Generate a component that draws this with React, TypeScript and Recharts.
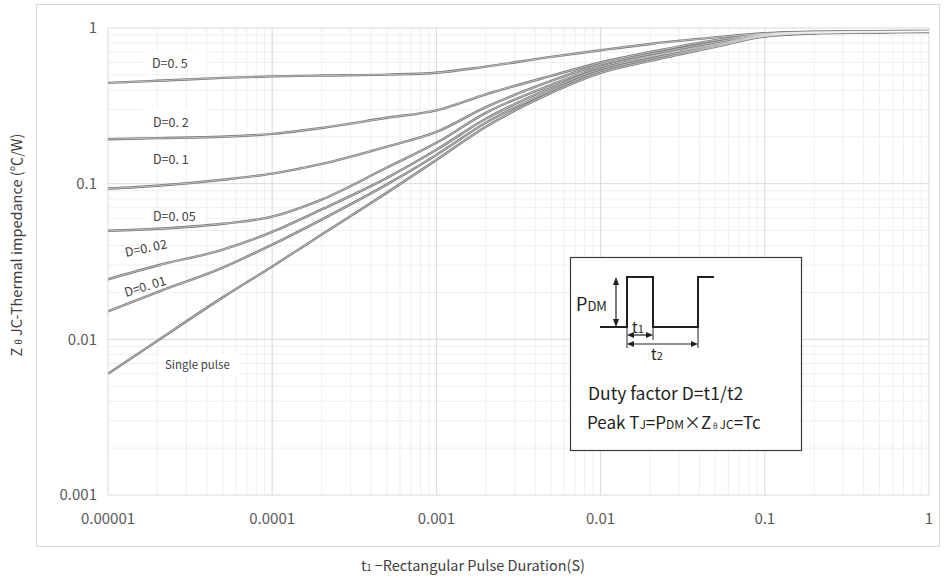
import React from 'react'
import { LineChart, Line, XAxis, YAxis, ReferenceLine } from 'recharts'

// pulse duration t1 (s) and Zth(j-c) readings (°C/W) for each duty factor
const pulseWidths = [
  0.00001, 0.00002, 0.00005, 0.0001, 0.0002, 0.0005, 0.001, 0.002, 0.005, 0.01, 0.02, 0.05, 0.1, 0.2,
  0.5, 1,
]
const duty05 = [0.444, 0.458, 0.478, 0.489, 0.495, 0.502, 0.516, 0.565, 0.652, 0.72, 0.79, 0.87, 0.925, 0.945, 0.955, 0.958]
const duty02 = [0.193, 0.196, 0.2, 0.209, 0.228, 0.265, 0.296, 0.375, 0.493, 0.6, 0.7, 0.835, 0.915, 0.942, 0.95, 0.955]
const duty01 = [0.093, 0.097, 0.106, 0.116, 0.134, 0.173, 0.215, 0.31, 0.457, 0.585, 0.68, 0.81, 0.91, 0.94, 0.948, 0.953]
const duty005 = [0.0498, 0.0513, 0.0553, 0.0614, 0.079, 0.127, 0.183, 0.285, 0.431, 0.563, 0.661, 0.79, 0.902, 0.936, 0.943, 0.95]
const duty002 = [0.0243, 0.0298, 0.0377, 0.049, 0.0683, 0.109, 0.165, 0.261, 0.412, 0.546, 0.652, 0.778, 0.895, 0.929, 0.943, 0.95]
const duty001 = [0.0151, 0.0201, 0.0289, 0.0406, 0.0588, 0.0989, 0.153, 0.246, 0.395, 0.53, 0.633, 0.767, 0.889, 0.929, 0.943, 0.95]
const singlePulse = [0.006, 0.0098, 0.0186, 0.0294, 0.0471, 0.0876, 0.142, 0.232, 0.383, 0.515, 0.615, 0.756, 0.882, 0.922, 0.936, 0.943]

const xTicks = [0.00001, 0.0001, 0.001, 0.01, 0.1, 1]
const xTickLabels = ['0.00001', '0.0001', '0.001', '0.01', '0.1', '1']
const yTicks = [0.001, 0.01, 0.1, 1]
const yTickLabels = ['0.001', '0.01', '0.1', '1']

const FONT = '"Noto Sans CJK KR", "Noto Sans", sans-serif'

const toRows = (vals: number[]) => pulseWidths.map((t, i) => ({ t, z: vals[i] }))
const series = [duty05, duty02, duty01, duty005, duty002, duty001, singlePulse].map(toRows)

// minor grid: 2..9 inside every decade
const minors = (decades: number[]) =>
  decades.slice(0, -1).flatMap((d) => [2, 3, 4, 5, 6, 7, 8, 9].map((m) => d * m))
const xMinor = minors(xTicks)
const yMinor = minors(yTicks)

function Overlay() {
  const lbl = { fontFamily: FONT, fontSize: 12.5, fill: '#404040' }
  const ink = '#231f20'
  return (
    <svg
      width={946}
      height={582}
      style={{ position: 'absolute', left: 0, top: 0, pointerEvents: 'none' }}
    >
      <rect x={36.5} y={4.5} width={903} height={542} fill="none" stroke="#d9d9d9" />

      {/* axis titles */}
      <text
        transform="translate(22,245) rotate(-90)"
        textAnchor="middle"
        fontFamily={FONT}
        fontSize={14.5}
        fill="#404040"
      >
        Z <tspan fontSize={9}>θ</tspan> JC-Thermal impedance (℃/W)
      </text>
      <text x={473} y={571} textAnchor="middle" fontFamily={FONT} fontSize={14.5} fill="#404040">
        t<tspan fontSize={9}>1</tspan> −Rectangular Pulse Duration(S)
      </text>

      {/* curve labels */}
      <rect x={142} y={52} width={65} height={20} fill="#fff" />
      <text x={152} y={68} {...lbl}>D=0. 5</text>
      <rect x={142} y={108} width={65} height={20} fill="#fff" />
      <text x={153} y={127} {...lbl}>D=0. 2</text>
      <rect x={142} y={150} width={60} height={18} fill="#fff" />
      <text x={153} y={164} {...lbl}>D=0. 1</text>
      <rect x={142} y={208} width={62} height={16} fill="#fff" />
      <text x={153} y={221} {...lbl}>D=0. 05</text>
      <text x={126} y={257} transform="rotate(-12 126 257)" {...lbl}>D=0.  02</text>
      <text x={126} y={297} transform="rotate(-17 126 297)" {...lbl}>D=0. 01</text>
      <rect x={158} y={354} width={82} height={22} fill="#fff" />
      <text x={165} y={369} fontFamily={FONT} fontSize={11.5} fill="#404040">Single pulse</text>

      {/* inset schematic */}
      <rect x={570.5} y={257.5} width={231} height={193} fill="#fff" stroke="#3a3a3a" strokeWidth={1.2} />
      <polyline
        points="600,327 627,327 627,277 653,277 653,327 698,327 698,277 714,277"
        fill="none"
        stroke={ink}
        strokeWidth={2}
      />
      <line x1={616} y1={280} x2={616} y2={324} stroke={ink} strokeWidth={1.2} />
      <polygon points="616,277 613,285 619,285" fill={ink} />
      <polygon points="616,327 613,319 619,319" fill={ink} />
      <line x1={629} y1={335} x2={651} y2={335} stroke={ink} strokeWidth={1.2} />
      <polygon points="627,335 634,332 634,338" fill={ink} />
      <polygon points="653,335 646,332 646,338" fill={ink} />
      <line x1={627} y1={327} x2={627} y2={348} stroke={ink} strokeWidth={1} />
      <line x1={653} y1={327} x2={653} y2={340} stroke={ink} strokeWidth={1} />
      <line x1={698} y1={327} x2={698} y2={348} stroke={ink} strokeWidth={1} />
      <line x1={629} y1={344} x2={696} y2={344} stroke={ink} strokeWidth={1.2} />
      <polygon points="627,344 634,341 634,347" fill={ink} />
      <polygon points="698,344 691,341 691,347" fill={ink} />
      <text x={576} y={311} fontFamily={FONT} fontSize={18} fill={ink}>
        P<tspan fontSize={13}>DM</tspan>
      </text>
      <text x={632} y={333} fontFamily={FONT} fontSize={15} fill={ink}>
        t<tspan fontSize={11}>1</tspan>
      </text>
      <text x={651} y={360} fontFamily={FONT} fontSize={15} fill={ink}>
        t<tspan fontSize={11}>2</tspan>
      </text>
      <text x={588} y={400} fontFamily={FONT} fontSize={17.5} fill={ink}>Duty factor D=t1/t2</text>
      <text x={587} y={429} fontFamily={FONT} fontSize={17} fill={ink}>
        Peak T<tspan fontSize={12}>J</tspan>=P<tspan fontSize={12}>DM</tspan>×Z
        <tspan fontSize={8}> θ </tspan>
        <tspan fontSize={12}>JC</tspan>=Tc
      </text>
    </svg>
  )
}

export default function App() {
  return (
    <div style={{ position: 'absolute', left: 0, top: 0, width: 946, height: 582, background: '#fff' }}>
      <LineChart width={946} height={582} margin={{ top: 28, right: 17, bottom: 57, left: 48 }}>
        <XAxis
          dataKey="t"
          type="number"
          scale="log"
          domain={[0.00001, 1]}
          ticks={xTicks}
          tickFormatter={(v, i) => xTickLabels[i]}
          allowDataOverflow
          axisLine={false}
          tickLine={false}
          tickSize={0}
          tickMargin={18}
          height={30}
          interval={0}
          tick={{ fontFamily: FONT, fontSize: 15, fill: '#595959' }}
        />
        <YAxis
          type="number"
          scale="log"
          domain={[0.001, 1]}
          ticks={yTicks}
          tickFormatter={(v, i) => yTickLabels[i]}
          allowDataOverflow
          axisLine={false}
          tickLine={false}
          tickSize={0}
          tickMargin={11}
          width={60}
          interval={0}
          tick={{ fontFamily: FONT, fontSize: 15, fill: '#595959' }}
        />
        {xMinor.map((v) => (
          <ReferenceLine key={'xm' + v} x={v} stroke="#efefef" strokeWidth={1} />
        ))}
        {yMinor.map((v) => (
          <ReferenceLine key={'ym' + v} y={v} stroke="#efefef" strokeWidth={1} />
        ))}
        {xTicks.map((v) => (
          <ReferenceLine key={'xM' + v} x={v} stroke="#d9d9d9" strokeWidth={1} />
        ))}
        {yTicks.map((v) => (
          <ReferenceLine key={'yM' + v} y={v} stroke="#d9d9d9" strokeWidth={1} />
        ))}
        {series.map((rows, i) => (
          <Line
            key={'base' + i}
            data={rows}
            dataKey="z"
            type="monotone"
            stroke="#777777"
            strokeWidth={2.4}
            dot={false}
            isAnimationActive={false}
          />
        ))}
        {series.map((rows, i) => (
          <Line
            key={'hi' + i}
            data={rows}
            dataKey="z"
            type="monotone"
            stroke="#ffffff"
            strokeOpacity={0.75}
            strokeWidth={0.7}
            dot={false}
            isAnimationActive={false}
          />
        ))}
      </LineChart>
      <Overlay />
    </div>
  )
}
